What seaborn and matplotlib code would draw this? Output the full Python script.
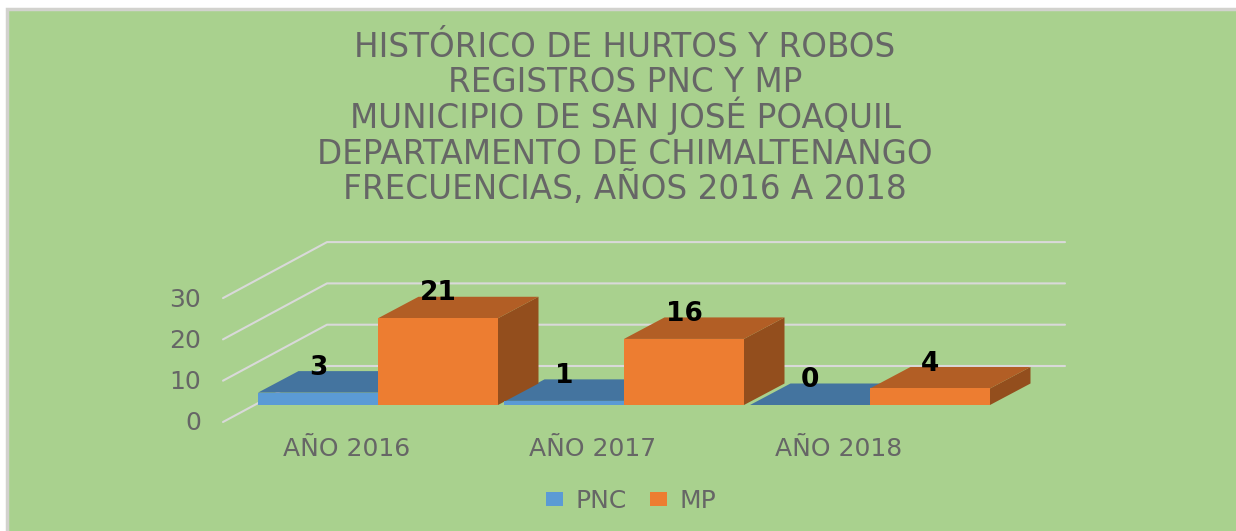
import matplotlib
matplotlib.use("Agg")
import matplotlib.pyplot as plt
from matplotlib.patches import Polygon, Rectangle
from matplotlib.transforms import ScaledTranslation
import pandas as pd
import seaborn as sns

title_lines = [
    "HISTÓRICO DE HURTOS Y ROBOS",
    "REGISTROS PNC Y MP",
    "MUNICIPIO DE SAN JOSÉ POAQUIL",
    "DEPARTAMENTO DE CHIMALTENANGO",
    "FRECUENCIAS, AÑOS 2016 A 2018",
]
years = ["AÑO 2016", "AÑO 2017", "AÑO 2018"]
pnc = [3, 1, 0]
mp = [21, 16, 4]
y_ticks = [0, 10, 20, 30]

W, H = 1236, 531
GREEN = "#A9D18E"
GRID = "#D9D9D9"
TEXT = "#666666"
FRONT = {"PNC": "#5B9BD5", "MP": "#ED7D31"}
TOP = {"PNC": "#44749F", "MP": "#B25E25"}
SIDE = {"PNC": "#3A6590", "MP": "#934E1D"}

sns.set_theme(style="white")
plt.rcParams["font.family"] = ["DejaVu Sans"]

df = pd.DataFrame({
    "year": years * 2,
    "serie": ["PNC"] * len(years) + ["MP"] * len(years),
    "value": pnc + mp,
})

fig = plt.figure(figsize=(W / 100, H / 100), dpi=100, facecolor="white")
fig.add_artist(Rectangle((6.5 / W, -0.02), 1.02, 1.02 - 9 / H, transform=fig.transFigure,
                         facecolor=GREEN, edgecolor="#D2D2CE", linewidth=2.5, zorder=-1))

# axes run from the floor line of the bars up to the top back gridline
ax = fig.add_axes([223 / W, (H - 405) / H, (1065 - 223) / W, (405 - 242) / H])
ax.patch.set_alpha(0)
sns.barplot(data=df, x="year", y="value", hue="serie", hue_order=["PNC", "MP"],
            palette=FRONT, width=240 / 246, gap=0, saturation=1, edgecolor="none",
            linewidth=0, ax=ax, zorder=3)

px_x, px_y = 246, 4.13   # pixels per category and per unit of value
ax.set_xlim(-155 / px_x, 687 / px_x)
ax.set_ylim(0, 163 / px_y)
sns.despine(ax=ax, left=True, bottom=True)

# depth of the bars and of the wall, in data units
bar_dx, bar_dy = 40.5 / px_x, 21.5 / px_y
wall_dx, wall_dy = 104 / px_x, 56 / px_y
front_dy = -17 / px_y
left, right = ax.get_xlim()

for v in y_ticks:
    xs = [left, left + wall_dx, right]
    ys = [v + front_dy, v + front_dy + wall_dy, v + front_dy + wall_dy]
    ax.plot(xs, ys, color=GRID, lw=1.5, clip_on=False, zorder=1)

series = ["PNC"] * len(years) + ["MP"] * len(years)
values = pnc + mp
bars = [p for c in ax.containers for p in c]
for bar, name, v in zip(bars, series, values):
    x0, x1 = bar.get_x(), bar.get_x() + bar.get_width()
    y1 = bar.get_height()
    ax.add_patch(Polygon([(x1, 0), (x1 + bar_dx, bar_dy), (x1 + bar_dx, y1 + bar_dy), (x1, y1)],
                         facecolor=SIDE[name], edgecolor="none", clip_on=False, zorder=2))
    ax.add_patch(Polygon([(x0, y1), (x1, y1), (x1 + bar_dx, y1 + bar_dy), (x0 + bar_dx, y1 + bar_dy)],
                         facecolor=TOP[name], edgecolor="none", clip_on=False, zorder=2))
    ax.text((x0 + x1) / 2, y1 + bar_dy + 0.8, str(v), ha="center", va="center",
            fontsize=19, fontweight="bold", color="black", zorder=5, clip_on=False)

ax.set_xlabel("")
ax.set_ylabel("")
ax.set_xticks(range(len(years)), years)
ax.set_yticks(y_ticks, [str(v) for v in y_ticks])
ax.tick_params(axis="x", length=0, pad=23, labelsize=18, labelcolor=TEXT)
ax.tick_params(axis="y", length=0, pad=16, labelsize=18, labelcolor=TEXT)
# value labels sit on the front edge of the floor, below the bars' baseline
shift = ScaledTranslation(0, -16 / 100, fig.dpi_scale_trans)
for lab in ax.get_yticklabels():
    lab.set_transform(lab.get_transform() + shift)
for lab in ax.get_xticklabels():
    lab.set_transform(lab.get_transform() + ScaledTranslation(-31 / 100, 0, fig.dpi_scale_trans))

handles, labels = ax.get_legend_handles_labels()
ax.legend_.remove()
fig.legend(handles, labels, loc="center", bbox_to_anchor=(631 / W, (H - 501) / H),
           ncol=2, frameon=False, fontsize=18, labelcolor=TEXT, handlelength=0.7,
           handleheight=0.5, handletextpad=0.5, columnspacing=0.9)

for i, line in enumerate(title_lines):
    fig.text(625 / W, (H - 57 - 35.5 * i) / H, line, ha="center", va="baseline",
             fontsize=23.5, color=TEXT)

fig.savefig("out.png", dpi=100)
plt.close(fig)
